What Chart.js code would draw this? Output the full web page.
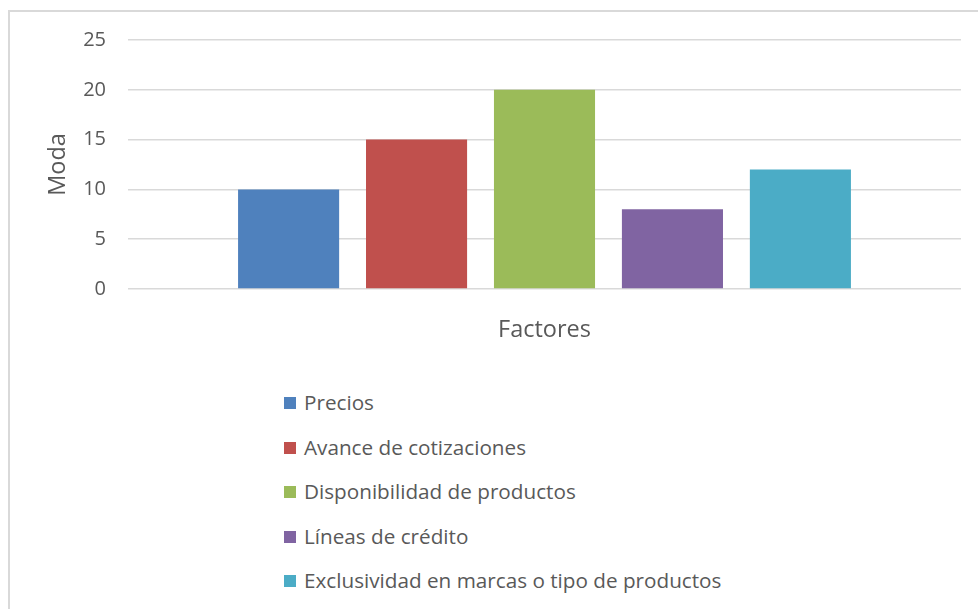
<!DOCTYPE html>
<html>
<head>
<meta charset="utf-8">
<script src="https://cdn.jsdelivr.net/npm/chart.js@4"></script>
<style>
    body { margin: 0; background: #fff; overflow: hidden; }
    #frame {
        position: absolute; left: 8px; top: 10px; width: 1000px; height: 640px;
        border: 2px solid #d9d9d9; box-sizing: border-box;
    }
    #chartBox { position: absolute; left: 0; top: 0; width: 978px; height: 360px; }
    #legend {
        position: absolute; left: 284px; top: 391px; margin: 0; padding: 0; list-style: none;
        font-family: "Open Sans", sans-serif; font-size: 20.7px; line-height: 22px; color: #595959;
    }
    #legend li { height: 44.6px; white-space: nowrap; }
    #legend span.box { display: inline-block; width: 12px; height: 12px; margin-right: 8px; vertical-align: top; margin-top: 6px; }
</style>
</head>
<body>
<div id="frame"></div>
<div id="chartBox"><canvas id="Graph"></canvas></div>
<ul id="legend"></ul>
<script>
// Chart data
const categories = ['Factores'];
const seriesNames = ['Precios', 'Avance de cotizaciones', 'Disponibilidad de productos', 'Líneas de crédito', 'Exclusividad en marcas o tipo de productos'];
const seriesValues = [10, 15, 20, 8, 12];
const seriesColors = ['#4f81bd', '#c0504d', '#9bbb59', '#8064a2', '#4bacc6'];
const yTicks = [0, 5, 10, 15, 20, 25];

const textColor = '#595959';
const fontFamily = '"Open Sans", sans-serif';

const datasets = seriesNames.map((name, i) => ({
    label: name,
    data: [seriesValues[i]],
    backgroundColor: seriesColors[i],
    borderWidth: 0,
    categoryPercentage: 0.768,
    barPercentage: 0.79
}));

const ctx = document.getElementById('Graph').getContext('2d');
const chartInstance = new Chart(ctx, {
    type: 'bar',
    data: { labels: categories, datasets: datasets },
    options: {
        responsive: true,
        maintainAspectRatio: false,
        animation: false,
        layout: { padding: { top: 40, right: 17, left: 0, bottom: 0 } },
        plugins: {
            legend: { display: false },
            tooltip: { enabled: false }
        },
        scales: {
            x: {
                ticks: { display: false },
                grid: { display: false },
                border: { display: false },
                title: {
                    display: true,
                    text: 'Factores',
                    color: textColor,
                    font: { family: fontFamily, size: 23.5 },
                    padding: { top: 0, bottom: 16 }
                },
                afterFit: (scale) => { scale.height = 360 - 289; }
            },
            y: {
                min: 0,
                max: 25,
                afterBuildTicks: (scale) => { scale.ticks = yTicks.map(v => ({ value: v })); },
                ticks: {
                    color: textColor,
                    padding: 22,
                    font: { family: fontFamily, size: 20 }
                },
                grid: { color: '#d9d9d9', lineWidth: 1.5, drawTicks: false },
                border: { display: false },
                title: {
                    display: true,
                    text: 'Moda',
                    color: textColor,
                    font: { family: fontFamily, size: 23.5 },
                    padding: { top: 44, bottom: 0 }
                },
                afterFit: (scale) => { scale.width = 128; }
            }
        }
    }
});

// Legend built from the chart's datasets, one item per line
const legend = document.getElementById('legend');
chartInstance.data.datasets.forEach((ds) => {
    const li = document.createElement('li');
    li.innerHTML = `<span class="box" style="background:${ds.backgroundColor}"></span>${ds.label}`;
    legend.appendChild(li);
});
</script>
</body>
</html>
